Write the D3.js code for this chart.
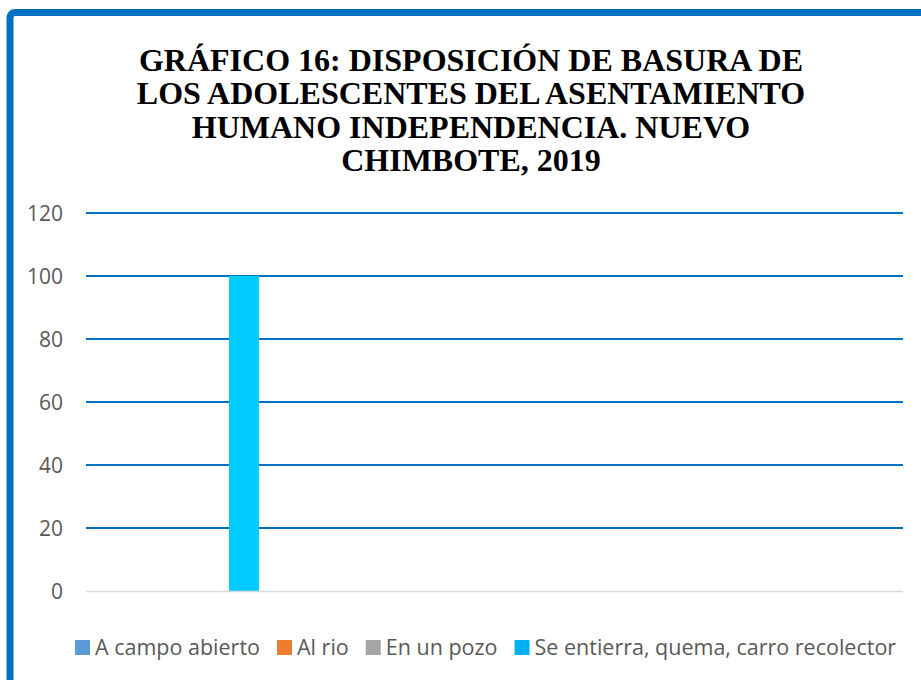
<!DOCTYPE html>
<html>
<head>
<meta charset="utf-8">
<script src="https://cdn.jsdelivr.net/npm/d3@7"></script>
<style>
  body { margin: 0; background: #fff; }
</style>
</head>
<body>
<div id="chart"></div>
<script>
// chart data
const titleLines = [
  "GRÁFICO 16: DISPOSICIÓN DE BASURA DE",
  "LOS ADOLESCENTES DEL ASENTAMIENTO",
  "HUMANO INDEPENDENCIA. NUEVO",
  "CHIMBOTE, 2019"
];
const seriesNames = ["A campo abierto", "Al rio", "En un pozo", "Se entierra, quema, carro recolector"];
const seriesValues = [0, 0, 0, 100];
const seriesColors = ["#5B9BD5", "#ED7D31", "#A5A5A5", "#00B0F0"];
const yTicks = [0, 20, 40, 60, 80, 100, 120];

document.addEventListener("DOMContentLoaded", function() {
    const W = 921, H = 680;
    const plot = {left: 86, right: 903, top: 213, bottom: 591};
    const sans = "'Open Sans', 'Noto Sans', sans-serif";

    const svg = d3.select("#chart").append("svg")
        .attr("width", W)
        .attr("height", H)
        .style("display", "block");

    // chart frame (runs past the right and bottom edges)
    svg.append("rect")
        .attr("x", 10)
        .attr("y", 12.5)
        .attr("width", 960)
        .attr("height", 720)
        .attr("rx", 5)
        .attr("fill", "#fff")
        .attr("stroke", "#0070C0")
        .attr("stroke-width", 7);

    // title
    svg.append("text")
        .attr("x", 471)
        .attr("y", 71)
        .attr("text-anchor", "middle")
        .style("font-family", "'Liberation Serif', 'Times New Roman', serif")
        .style("font-weight", "bold")
        .style("font-size", "32px")
        .attr("fill", "#000")
        .selectAll("tspan")
        .data(titleLines)
        .enter().append("tspan")
        .attr("x", 471)
        .attr("dy", (d, i) => i === 0 ? 0 : 33.3)
        .text(d => d);

    const y = d3.scaleLinear()
        .domain([0, 120])
        .range([plot.bottom, plot.top]);

    // bars sit in one group, placed the way Excel left them
    const x = d3.scaleBand()
        .domain(seriesNames)
        .range([plot.left, plot.right])
        .paddingInner(0)
        .paddingOuter(11.62)
        .align(0.076);

    // gridlines
    svg.append("g")
        .selectAll("line")
        .data(yTicks.filter(d => d > 0))
        .enter().append("line")
        .attr("x1", plot.left)
        .attr("x2", plot.right)
        .attr("y1", d => y(d))
        .attr("y2", d => y(d))
        .attr("stroke", "#0070C0")
        .attr("stroke-width", 2);

    // bars
    svg.append("g")
        .selectAll("rect")
        .data(seriesValues.map((v, i) => ({name: seriesNames[i], value: v})))
        .enter().append("rect")
        .attr("x", d => x(d.name))
        .attr("width", x.bandwidth())
        .attr("y", d => y(d.value))
        .attr("height", d => y(0) - y(d.value))
        .attr("fill", "#00CCFF");

    // zero axis line
    svg.append("line")
        .attr("x1", plot.left)
        .attr("x2", plot.right)
        .attr("y1", y(0) + 0.5)
        .attr("y2", y(0) + 0.5)
        .attr("stroke", "#D9D9D9")
        .attr("stroke-width", 1.5);

    // y axis labels
    const yAxis = svg.append("g")
        .attr("transform", "translate(" + plot.left + ",0)")
        .call(d3.axisLeft(y).tickValues(yTicks).tickSize(0).tickPadding(23));
    yAxis.select(".domain").remove();
    yAxis.selectAll("text")
        .style("font-family", sans)
        .style("font-size", "21px")
        .attr("dy", "0.36em")
        .attr("fill", "#595959");

    // legend
    const legend = svg.append("g").attr("class", "legend");
    let lx = 75;
    seriesNames.forEach((name, i) => {
        const item = legend.append("g");
        item.append("rect")
            .attr("x", lx)
            .attr("y", 640)
            .attr("width", 15)
            .attr("height", 15)
            .attr("fill", seriesColors[i]);
        const t = item.append("text")
            .attr("x", lx + 20)
            .attr("y", 655)
            .style("font-family", sans)
            .style("font-size", "21.5px")
            .attr("fill", "#595959")
            .text(name);
        lx += 20 + t.node().getComputedTextLength() + 17;
    });
});
</script>
</body>
</html>
